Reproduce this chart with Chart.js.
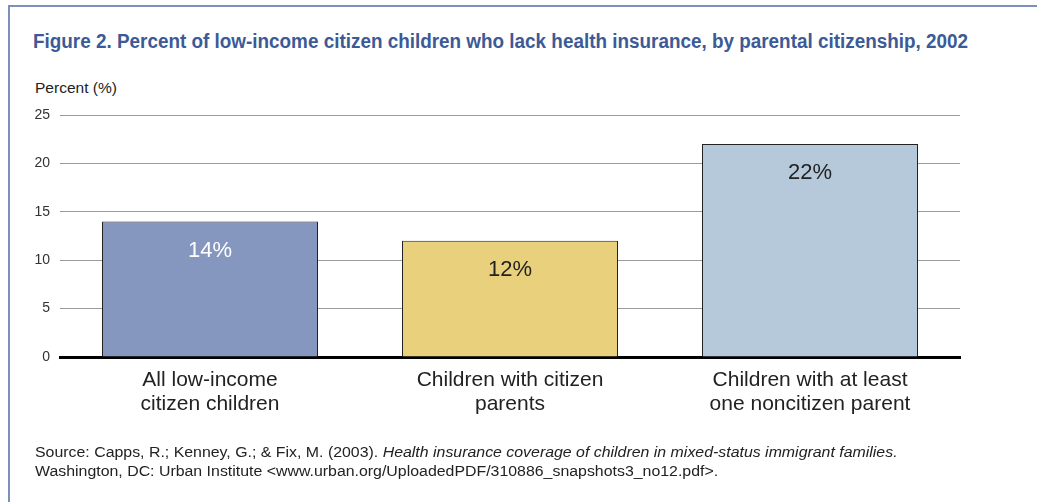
<!DOCTYPE html>
<html><head><meta charset="utf-8">
<script src="https://cdn.jsdelivr.net/npm/chart.js@4.4.1/dist/chart.umd.min.js"></script>
<style>
html,body{margin:0;padding:0;background:#fff;}
body{width:1037px;height:502px;position:relative;overflow:hidden;font-family:"Liberation Sans",Arial,sans-serif;}
#frame{position:absolute;left:8px;top:5px;right:-10px;bottom:-10px;border-left:2px solid #7d90bb;border-top:2px solid #7d90bb;}
#title{position:absolute;left:33px;top:30px;font-family:"Liberation Sans Narrow","Liberation Sans",sans-serif;font-weight:bold;font-size:20px;color:#3c5a96;white-space:nowrap;transform-origin:0 0;}
#ytitle{position:absolute;left:35px;top:80px;font-size:14px;color:#222;white-space:nowrap;transform-origin:0 0;transform:scaleX(1.11);}
#source{position:absolute;left:35px;top:443px;font-size:14px;line-height:19px;color:#222;white-space:nowrap;transform-origin:0 0;transform:scaleX(1.135);}
#wrap{position:absolute;left:0;top:0;width:1037px;height:502px;}
</style></head>
<body>
<div id="frame"></div>
<div id="title">Figure 2. Percent of low-income citizen children who lack health insurance, by parental citizenship, 2002</div>
<div id="ytitle">Percent (%)</div>
<div id="wrap"><canvas id="c" width="1037" height="502"></canvas></div>
<div id="source">Source: Capps, R.; Kenney, G.; &amp; Fix, M. (2003). <i>Health insurance coverage of children in mixed-status immigrant families.</i><br>Washington, DC: Urban Institute &lt;www.urban.org/UploadedPDF/310886_snapshots3_no12.pdf&gt;.</div>
<script>
const categories = [["All low-income","citizen children"],["Children with citizen","parents"],["Children with at least","one noncitizen parent"]];
const values = [14, 12, 22];
const yTicks = [0, 5, 10, 15, 20, 25];

const barColors = ["#8597bf", "#e8d07c", "#b5c9da"];
const labelColors = ["#ffffff", "#222222", "#222222"];

// fit title width to reference
const t = document.getElementById('title');
const w = t.getBoundingClientRect().width;
t.style.transform = 'scaleX(' + (935 / w) + ')';

const valueLabels = {
  id: 'valueLabels',
  afterDatasetsDraw(chart) {
    const ctx = chart.ctx;
    const meta = chart.getDatasetMeta(0);
    ctx.save();
    ctx.font = '22px "Liberation Sans", Arial, sans-serif';
    ctx.textAlign = 'center';
    ctx.textBaseline = 'middle';
    meta.data.forEach((el, i) => {
      ctx.fillStyle = labelColors[i];
      ctx.fillText(values[i] + '%', el.x, el.y + 29);
    });
    ctx.restore();
  }
};

new Chart(document.getElementById('c'), {
  type: 'bar',
  data: {
    labels: categories,
    datasets: [{
      data: values,
      backgroundColor: barColors,
      borderColor: '#222',
      borderWidth: 1,
      barPercentage: 0.72,
      categoryPercentage: 1
    }]
  },
  options: {
    responsive: false,
    animation: false,
    layout: { padding: { left: 0, right: 77, top: 115, bottom: 0 } },
    plugins: { legend: { display: false }, tooltip: { enabled: false } },
    scales: {
      y: {
        min: 0, max: 25,
        afterBuildTicks(scale) { scale.ticks = yTicks.map(v => ({ value: v })); },
        afterFit(scale) { scale.width = 60; },
        ticks: { color: '#333', font: { size: 14, family: '"Liberation Sans", Arial, sans-serif' }, padding: 10 },
        grid: { color: (c) => c.tick && c.tick.value === 0 ? 'rgba(0,0,0,0)' : '#9a9a9a', lineWidth: 1, drawTicks: false },
        border: { display: false }
      },
      x: {
        z: 1,
        afterFit(scale) { scale.height = 145; },
        ticks: { color: '#222', font: { size: 21, family: '"Liberation Sans", Arial, sans-serif', lineHeight: 1.15 }, padding: 3, maxRotation: 0 },
        grid: { display: false },
        border: { color: '#000', width: 3 }
      }
    }
  },
  plugins: [valueLabels]
});
</script>
</body></html>
